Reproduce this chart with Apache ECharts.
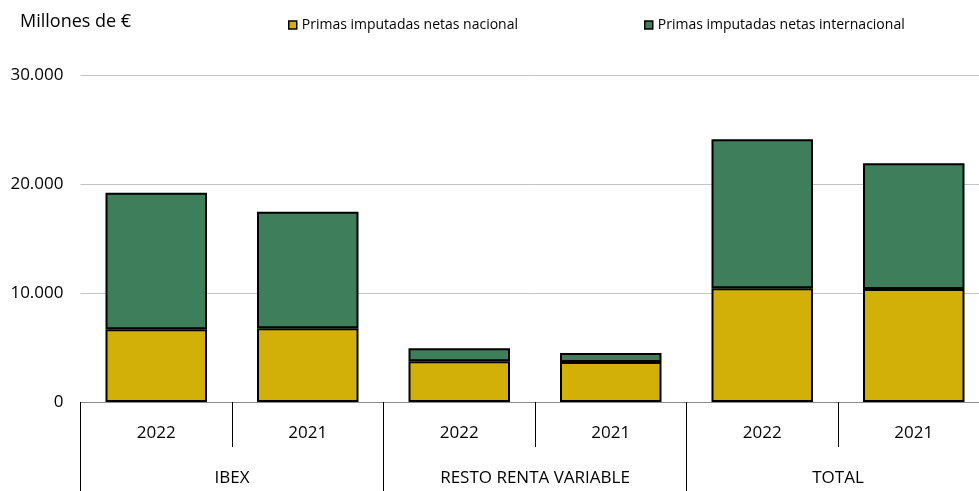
<!DOCTYPE html>
<html>
<head>
<meta charset="utf-8">
<script src="https://cdn.jsdelivr.net/npm/echarts@6/dist/echarts.min.js"></script>
<style>
  html, body { margin: 0; padding: 0; background: #fff; }
  #chart { width: 979px; height: 491px; }
</style>
</head>
<body>
<div id="chart"></div>
<script>
// Categories: year per group, then the groups themselves
const years = ['2022', '2021', '2022', '2021', '2022', '2021'];
const groups = ['IBEX', 'RESTO RENTA VARIABLE', 'TOTAL'];

// Millions of euros
const nacional = [6670, 6760, 3730, 3670, 10430, 10370];
const internacional = [12530, 10700, 1200, 830, 13670, 11530];

const yTicks = [0, 10000, 20000, 30000];

const FONT = '"Open Sans", "Noto Sans", sans-serif';
const fmt = v => String(v).replace(/\B(?=(\d{3})+(?!\d))/g, '.');

const chart = echarts.init(document.getElementById('chart'), null, { renderer: 'canvas' });

chart.setOption({
  animation: false,
  backgroundColor: '#ffffff',
  textStyle: { fontFamily: FONT },
  graphic: [{
    type: 'text',
    left: 20,
    top: 13,
    style: { text: 'Millones de €', font: '18px ' + FONT, fill: '#000' }
  }],
  legend: [
    {
      left: 283, top: 13,
      data: ['Primas imputadas netas nacional'],
      icon: 'rect', itemWidth: 8, itemHeight: 8,
      itemStyle: { borderColor: '#000', borderWidth: 1.5 },
      textStyle: { fontSize: 14, color: '#000', fontFamily: FONT }
    },
    {
      left: 639, top: 13,
      data: ['Primas imputadas netas internacional'],
      icon: 'rect', itemWidth: 8, itemHeight: 8,
      itemStyle: { borderColor: '#000', borderWidth: 1.5 },
      textStyle: { fontSize: 14, color: '#000', fontFamily: FONT }
    }
  ],
  // plot area runs a little past the right edge of the canvas
  grid: { left: 80.5, width: 909, top: 75, height: 327, containLabel: false, outerBoundsMode: 'none' },
  xAxis: [
    {
      type: 'category',
      data: years,
      position: 'bottom',
      axisLine: { show: true, lineStyle: { color: '#8c8c8c', width: 1 } },
      axisTick: { show: true, interval: 0, length: 45, lineStyle: { color: '#000', width: 1 } },
      axisLabel: { interval: 0, margin: 23, fontSize: 17, color: '#000', fontFamily: FONT }
    },
    {
      type: 'category',
      data: groups,
      position: 'bottom',
      axisLine: { show: false },
      axisTick: { show: true, interval: 0, length: 92, lineStyle: { color: '#000', width: 1 } },
      axisLabel: { interval: 0, margin: 68, fontSize: 17, color: '#000', fontFamily: FONT }
    }
  ],
  yAxis: {
    type: 'value',
    min: yTicks[0],
    max: yTicks[yTicks.length - 1],
    interval: yTicks[1] - yTicks[0],
    axisLine: { show: false },
    axisTick: { show: false },
    splitLine: { lineStyle: { color: '#c4c4c4', width: 1 } },
    axisLabel: { margin: 17, fontSize: 17, color: '#000', fontFamily: FONT, formatter: fmt }
  },
  series: [
    {
      name: 'Primas imputadas netas nacional',
      type: 'bar',
      stack: 'primas',
      xAxisIndex: 0,
      barWidth: '67%',
      data: nacional,
      itemStyle: { color: '#D2B008', borderColor: '#000', borderWidth: 2 }
    },
    {
      name: 'Primas imputadas netas internacional',
      type: 'bar',
      stack: 'primas',
      xAxisIndex: 0,
      barWidth: '67%',
      data: internacional,
      itemStyle: { color: '#3E7E5A', borderColor: '#000', borderWidth: 2 }
    }
  ]
});
</script>
</body>
</html>
